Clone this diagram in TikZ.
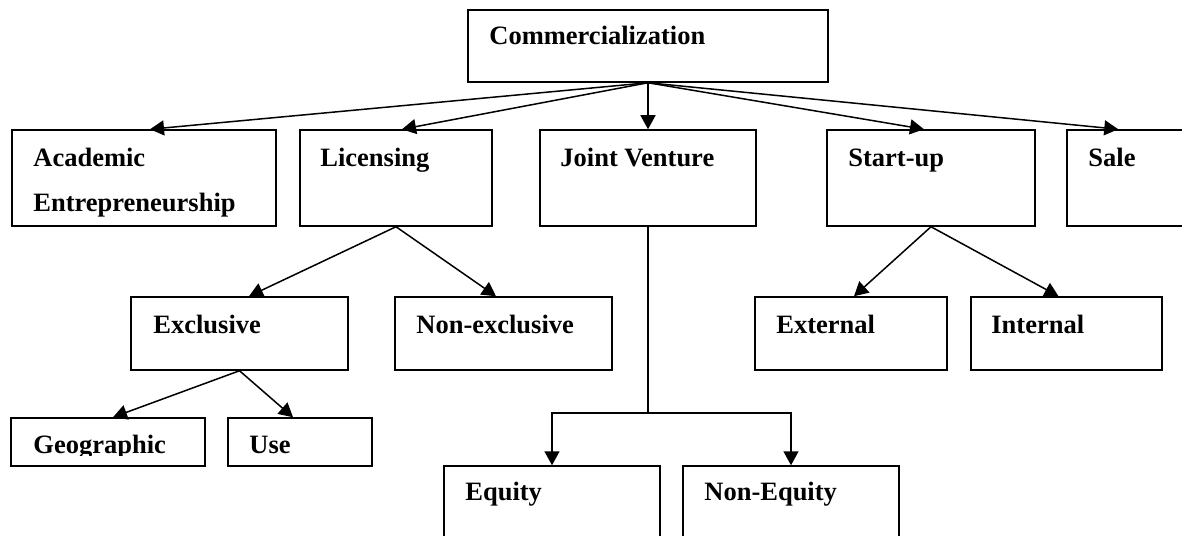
\documentclass[tikz,border=0pt]{standalone}
\usepackage{fontspec}
\setmainfont{Liberation Serif}
\usetikzlibrary{arrows.meta,fit}
\begin{document}
\begin{tikzpicture}[x=0.5pt,y=-0.5pt,
  box/.style={draw, line width=0.75pt, inner sep=0pt},
  lbl/.style={anchor=base west, inner sep=0pt, font=\bfseries\fontsize{13.25pt}{16pt}\selectfont},
  arr/.style={line width=0.75pt, -{Triangle[length=7pt,width=7.5pt]}},
  conn/.style={line width=0.75pt}]
\useasboundingbox (0,0) rectangle (1182,535);
\clip (0,0) rectangle (1182,535);
% boxes
\node[box, fit={(468,10) (828,82)}] (comm) {};
\node[box, fit={(12,130) (276,226)}] (acad) {};
\node[box, fit={(300,130) (492,226)}] (lic) {};
\node[box, fit={(540,130) (756,226)}] (jv) {};
\node[box, fit={(827,130) (1035,226)}] (start) {};
\node[box, fit={(1067,130) (1200,226)}] (sale) {};
\node[box, fit={(131,297) (348,370)}] (excl) {};
\node[box, fit={(395,297) (612,370)}] (nonex) {};
\node[box, fit={(755,297) (947,370)}] (ext) {};
\node[box, fit={(971,297) (1162,370)}] (int) {};
\node[box, fit={(11,418) (205,466)}] (geo) {};
\node[box, fit={(228,418) (372,466)}] (use) {};
\node[box, fit={(444,466) (660,560)}] (eq) {};
\node[box, fit={(683,466) (899,560)}] (neq) {};
% labels
\node[lbl] (commT) at (489,45) {Commercialization};
\node[lbl] (acadT1) at (33,166) {Academic};
\node[lbl] (acadT2) at (33,211) {Entrepreneurship};
\node[lbl] (licT) at (320,166) {Licensing};
\node[lbl] (jvT) at (560,166) {Joint Venture};
\node[lbl] (startT) at (848,166) {Start-up};
\node[lbl] (saleT) at (1088,166) {Sale};
\node[lbl] (exclT) at (153,333) {Exclusive};
\node[lbl] (nonexT) at (416,333) {Non-exclusive};
\node[lbl] (extT) at (776,333) {External};
\node[lbl] (intT) at (991,333) {Internal};
\begin{scope}
  \clip (0,418) rectangle (400,455.5);
  \node[lbl] (geoT) at (33,453) {Geographic};
  \node[lbl] (useT) at (249,453) {Use};
\end{scope}
\node[lbl] (eqT) at (465,500) {Equity};
\node[lbl] (neqT) at (704,500) {Non-Equity};
% connectors
\draw[arr] (comm.south) -- ([xshift=3pt]acad.north);
\draw[arr] (comm.south) -- ([xshift=3pt]lic.north);
\draw[arr] (comm.south) -- (jv.north);
\draw[arr] (comm.south) -- ([xshift=-3.5pt]start.north);
\draw[arr] (comm.south) -- ([xshift=26pt]sale.north west);
\draw[arr] (lic.south) -- ([xshift=4.75pt]excl.north);
\draw[arr] (lic.south) -- ([xshift=-3.75pt]nonex.north);
\draw[arr] (excl.south) -- ([xshift=2.5pt]geo.north);
\draw[arr] (excl.south) -- ([xshift=-3.5pt]use.north);
\draw[arr] (start.south) -- ([xshift=1.5pt]ext.north);
\draw[arr] (start.south) -- ([xshift=-4pt]int.north);
\coordinate (jvsplit) at (648,413);
\draw[conn] (jv.south) -- (jvsplit);
\draw[arr] (jvsplit) -| (eq.north);
\draw[arr] (jvsplit) -| (neq.north);
\end{tikzpicture}
\end{document}
